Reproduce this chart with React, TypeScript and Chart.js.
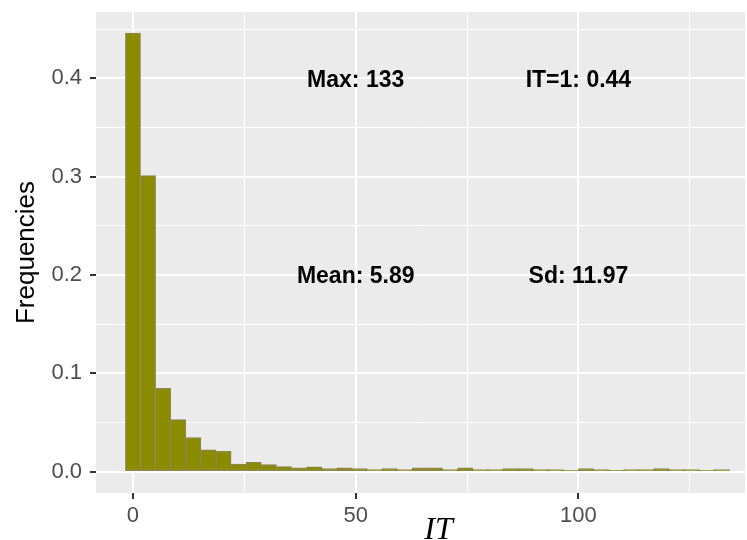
import React, { useEffect, useRef } from "react";
import { Chart, registerables } from "chart.js";

Chart.register(...registerables);

// Histogram of IT: 40 bins of equal width, first bin centred on 0
const BIN_WIDTH = 3.39;
const FREQUENCIES = [
  0.446, 0.301, 0.0848, 0.0529, 0.0346, 0.0221, 0.0207, 0.0076, 0.0096, 0.0072,
  0.0052, 0.0038, 0.0048, 0.0031, 0.0038, 0.0031, 0.0020, 0.0031, 0.0020, 0.0038,
  0.0038, 0.0020, 0.0038, 0.0020, 0.0020, 0.0031, 0.0031, 0.0020, 0.0020, 0.0013,
  0.0031, 0.0020, 0.0013, 0.0020, 0.0020, 0.0031, 0.0020, 0.0020, 0.0013, 0.0020,
];
const BIN_CENTERS = FREQUENCIES.map((_, i) => i * BIN_WIDTH);

const X_TICKS = [0, 25, 50, 75, 100, 125];
const X_MAJOR = [0, 50, 100];
const Y_TICKS = [0, 0.05, 0.1, 0.15, 0.2, 0.25, 0.3, 0.35, 0.4, 0.45];
const Y_MAJOR = [0, 0.1, 0.2, 0.3, 0.4];

const ANNOT_TEXT = ["Max: 133", "IT=1: 0.44", "Mean: 5.89", "Sd: 11.97"];
const ANNOT_X = [50, 100, 50, 100];
const ANNOT_Y = [0.4, 0.4, 0.2, 0.2];

const X_MIN = -8.3;
const X_MAX = 137.4;
const Y_MIN = -0.0217;
const Y_MAX = 0.4674;

const isIn = (arr: number[], v: number) => arr.some((a) => Math.abs(a - v) < 1e-9);

const panelPlugin = {
  id: "panelBg",
  beforeDraw(chart: any) {
    const { ctx, chartArea } = chart;
    ctx.save();
    ctx.fillStyle = "#EBEBEB";
    ctx.fillRect(chartArea.left, chartArea.top, chartArea.right - chartArea.left, chartArea.bottom - chartArea.top);
    ctx.restore();
  },
};

const annotPlugin = {
  id: "annots",
  afterDatasetsDraw(chart: any) {
    const { ctx, scales, chartArea } = chart;
    ctx.save();
    ctx.fillStyle = "#000000";
    ctx.font = "bold 23px 'Liberation Sans', Arial, sans-serif";
    ctx.textAlign = "center";
    ctx.textBaseline = "alphabetic";
    ANNOT_TEXT.forEach((t, i) => {
      const x = scales.x.getPixelForValue(ANNOT_X[i]);
      const y = scales.y.getPixelForValue(ANNOT_Y[i]);
      ctx.fillText(t, x, y + 8.3);
    });
    // x axis title (italic math-style)
    ctx.font = "italic 32px 'Liberation Serif', 'Times New Roman', serif";
    ctx.fillText("IT", (chartArea.left + chartArea.right) / 2 + 18, 539);
    ctx.restore();
  },
};

export default function App() {
  const ref = useRef<HTMLCanvasElement>(null);
  useEffect(() => {
    document.body.style.margin = "0";
    const canvas = ref.current!;
    const chart = new Chart(canvas, {
      type: "bar",
      data: {
        datasets: [
          {
            data: BIN_CENTERS.map((x, i) => ({ x, y: FREQUENCIES[i] })),
            backgroundColor: "#8B8B00",
            borderColor: "#8B864E",
            borderWidth: 1.2,
            borderSkipped: false,
            barPercentage: 1,
            categoryPercentage: 1,
          },
        ],
      },
      options: {
        animation: false,
        responsive: false,
        maintainAspectRatio: false,
        layout: { padding: { left: 0, top: 12, right: 2, bottom: 0 } },
        plugins: { legend: { display: false }, tooltip: { enabled: false } },
        scales: {
          x: {
            type: "linear",
            min: X_MIN,
            max: X_MAX,
            offset: false,
            afterBuildTicks: (scale: any) => {
              scale.ticks = X_TICKS.map((v) => ({ value: v }));
            },
            afterFit: (scale: any) => {
              scale.height = 47;
              scale.paddingLeft = 0;
              scale.paddingRight = 0;
            },
            border: { display: false },
            grid: {
              offset: false,
              color: "#FFFFFF",
              lineWidth: (c: any) => (isIn(X_MAJOR, c.tick.value) ? 2 : 1),
              tickColor: (c: any) => (isIn(X_MAJOR, c.tick.value) ? "#333333" : "rgba(0,0,0,0)"),
              tickLength: 6,
              tickWidth: 2,
            },
            ticks: {
              autoSkip: false,
              maxRotation: 0,
              padding: 4,
              color: "#4D4D4D",
              font: { family: "'Liberation Sans', Arial, sans-serif", size: 22 },
              callback: (v: any) => (isIn(X_MAJOR, Number(v)) ? String(v) : ""),
            },
          },
          y: {
            type: "linear",
            min: Y_MIN,
            max: Y_MAX,
            afterBuildTicks: (scale: any) => {
              scale.ticks = Y_TICKS.map((v) => ({ value: v }));
            },
            afterFit: (scale: any) => {
              scale.width = 96;
              scale.paddingTop = 0;
              scale.paddingBottom = 0;
            },
            border: { display: false },
            grid: {
              color: "#FFFFFF",
              lineWidth: (c: any) => (isIn(Y_MAJOR, c.tick.value) ? 2 : 1),
              tickColor: (c: any) => (isIn(Y_MAJOR, c.tick.value) ? "#333333" : "rgba(0,0,0,0)"),
              tickLength: 6,
              tickWidth: 2,
            },
            title: {
              display: true,
              text: "Frequencies",
              color: "#000000",
              font: { family: "'Liberation Sans', Arial, sans-serif", size: 26 },
              padding: { top: 11, bottom: 0 },
            },
            ticks: {
              autoSkip: false,
              padding: 8,
              color: "#4D4D4D",
              font: { family: "'Liberation Sans', Arial, sans-serif", size: 22 },
              callback: (v: any) => (isIn(Y_MAJOR, Number(v)) ? Number(v).toFixed(1) : ""),
            },
          },
        },
      },
      plugins: [panelPlugin, annotPlugin],
    });
    return () => chart.destroy();
  }, []);
  return (
    <div style={{ width: 747, height: 540 }}>
      <canvas ref={ref} width={747} height={540} style={{ display: "block" }} />
    </div>
  );
}
